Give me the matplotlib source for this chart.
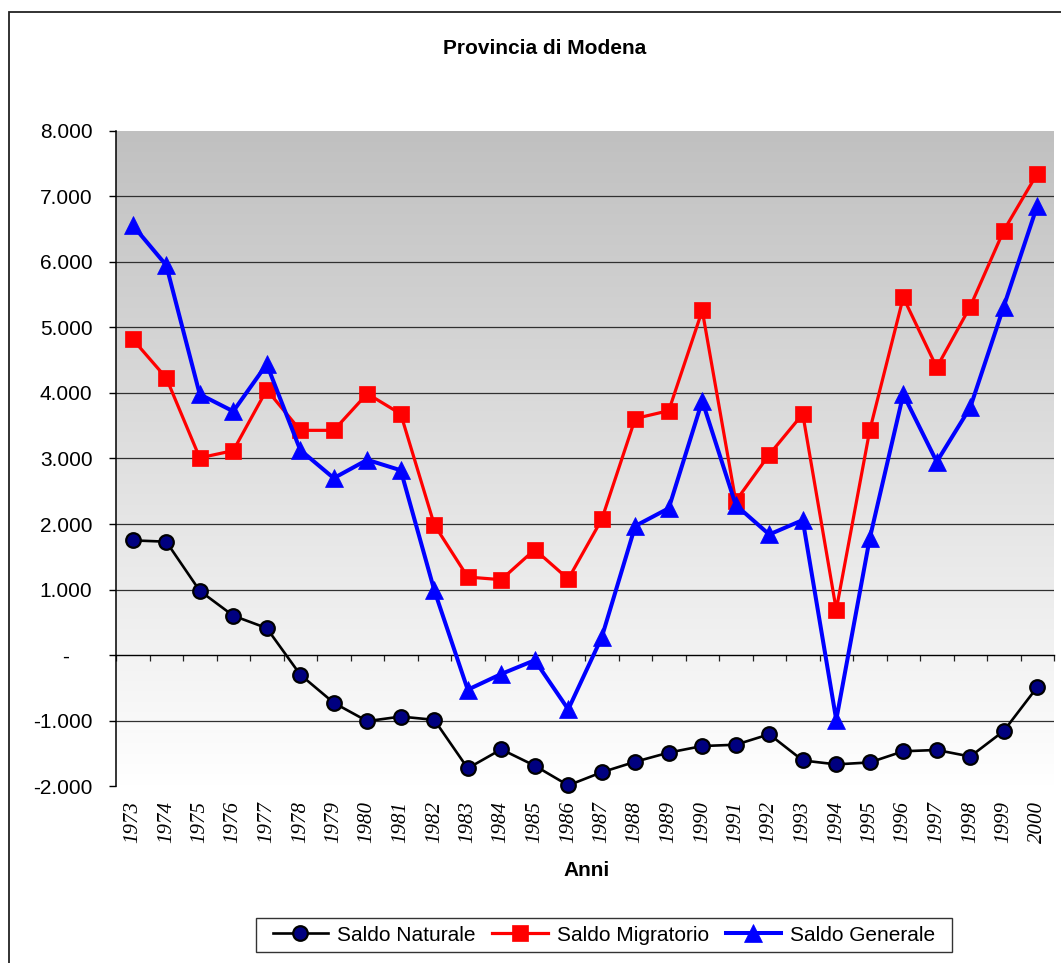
import numpy as np
import matplotlib
matplotlib.use("Agg")
import matplotlib.pyplot as plt
from matplotlib.colors import LinearSegmentedColormap
from matplotlib.patches import Rectangle
from matplotlib.transforms import ScaledTranslation

plt.rcParams['font.family'] = ['Liberation Sans', 'DejaVu Sans']

title = "Provincia di Modena"
x_label = "Anni"
years = list(range(1973, 2001))
year_labels = [str(y) for y in years]

saldo_naturale = [1750, 1730, 980, 600, 410, -300, -730, -1010, -940, -990,
                  -1730, -1440, -1690, -1990, -1790, -1630, -1490, -1390, -1370, -1210,
                  -1610, -1670, -1640, -1470, -1450, -1550, -1160, -490]
saldo_migratorio = [4820, 4230, 3010, 3120, 4050, 3430, 3430, 3990, 3680, 1990,
                    1190, 1150, 1610, 1160, 2070, 3610, 3730, 5260, 2350, 3060,
                    3680, 690, 3430, 5460, 4390, 5320, 6480, 7350]
saldo_generale = [6560, 5950, 3980, 3720, 4440, 3130, 2700, 2980, 2820, 990,
                  -530, -290, -80, -830, 270, 1970, 2240, 3880, 2290, 1840,
                  2060, -990, 1780, 3980, 2950, 3780, 5320, 6860]

y_ticks = [-2000, -1000, 0, 1000, 2000, 3000, 4000, 5000, 6000, 7000, 8000]
y_tick_labels = ["-2.000", "-1.000", "-", "1.000", "2.000", "3.000", "4.000",
                 "5.000", "6.000", "7.000", "8.000"]
series_names = ["Saldo Naturale", "Saldo Migratorio", "Saldo Generale"]

W, H = 1061, 963
fig = plt.figure(figsize=(W / 100, H / 100), dpi=100)
fig.patch.set_facecolor('white')

# outer chart border (cut at right/bottom as in reference)
fig.add_artist(Rectangle((8.5 / W, -0.1), 1.2, 1.1 - 12.5 / H,
                         transform=fig.transFigure, fill=False,
                         edgecolor='#222222', lw=1.3))

left, right, top, bottom = 116, 1054, 131, 786
ax = fig.add_axes([left / W, 1 - bottom / H, (right - left) / W, (bottom - top) / H])

xmin, xmax = years[0] - 0.5, years[-1] + 0.5
ymin, ymax = y_ticks[0], y_ticks[-1]
ax.set_xlim(xmin, xmax)
ax.set_ylim(ymin, ymax)

# gradient background
cmap = LinearSegmentedColormap.from_list('bg', ['#ffffff', '#c0c0c0'])
grad = np.linspace(0, 1, 256).reshape(-1, 1)
ax.imshow(grad, extent=(xmin, xmax, ymin, ymax), origin='lower', aspect='auto',
          cmap=cmap, zorder=0, interpolation='bilinear')

# gridlines
ax.hlines([v for v in y_ticks[1:-1] if v != 0], xmin, xmax, colors='#303030',
          lw=0.9, zorder=1)

# series
ax.plot(years, saldo_naturale, color='black', lw=1.9, marker='o', markersize=10.5,
        markerfacecolor='#000080', markeredgecolor='black', markeredgewidth=1.6,
        label=series_names[0], zorder=3, clip_on=False)
ax.plot(years, saldo_migratorio, color='#ff0000', lw=2.3, marker='s', markersize=12,
        markerfacecolor='#ff0000', markeredgecolor='#ff0000', markeredgewidth=0.5,
        label=series_names[1], zorder=4, clip_on=False)
ax.plot(years, saldo_generale, color='#0000ff', lw=2.9, marker='^', markersize=13,
        markerfacecolor='#0000ff', markeredgecolor='#0000ff', markeredgewidth=0.5,
        label=series_names[2], zorder=5, clip_on=False)

# spines
for s in ['top', 'right', 'bottom']:
    ax.spines[s].set_visible(False)
ax.spines['left'].set_color('black')
ax.spines['left'].set_linewidth(1.1)

# y axis
ax.set_yticks(y_ticks)
ax.set_yticklabels(y_tick_labels, fontsize=15)
ax.tick_params(axis='y', direction='out', length=5, width=1.0, pad=12, colors='black')
for lbl, v in zip(ax.get_yticklabels(), y_ticks):
    if v == 0:
        lbl.set_transform(lbl.get_transform() + ScaledTranslation(-0.23, 0, fig.dpi_scale_trans))

# x tick labels at bottom
ax.set_xticks(years)
ax.set_xticklabels(year_labels, rotation=90, fontsize=15,
                   fontfamily=['Liberation Serif', 'DejaVu Serif'], fontstyle='italic')
ax.tick_params(axis='x', length=0, pad=11)

# category axis at zero with boundary ticks
frac0 = (0 - ymin) / (ymax - ymin)
sec = ax.secondary_xaxis(frac0)
sec.set_xticks(np.arange(xmin, xmax + 0.01, 1.0))
sec.set_xticklabels([])
sec.tick_params(axis='x', direction='out', length=4.5, width=0.9, colors='#222222')
sec.spines['bottom'].set_color('black')
sec.spines['bottom'].set_linewidth(1.0)

# title and x label
fig.text(545 / W, 1 - 48 / H, title, ha='center', va='center', fontsize=15,
         fontweight='bold')
fig.text(587 / W, 1 - 870 / H, x_label, ha='center', va='center', fontsize=15,
         fontweight='bold')

# legend (frame drawn separately to match the reference box)
handles, labels = ax.get_legend_handles_labels()
leg = fig.legend(handles, labels, loc='center', bbox_to_anchor=(604 / W, 1 - 935 / H),
                 ncol=3, fontsize=15, frameon=False, handlelength=2.65,
                 handletextpad=0.45, columnspacing=0.8, borderpad=0.3, numpoints=1,
                 borderaxespad=0)
lx0, lx1, ly0, ly1 = 256, 952, 918, 952
fig.add_artist(Rectangle((lx0 / W, 1 - ly1 / H), (lx1 - lx0) / W, (ly1 - ly0) / H,
                         transform=fig.transFigure, facecolor='white',
                         edgecolor='#333333', lw=1.0, zorder=-1))

fig.savefig('out.png', dpi=100)
